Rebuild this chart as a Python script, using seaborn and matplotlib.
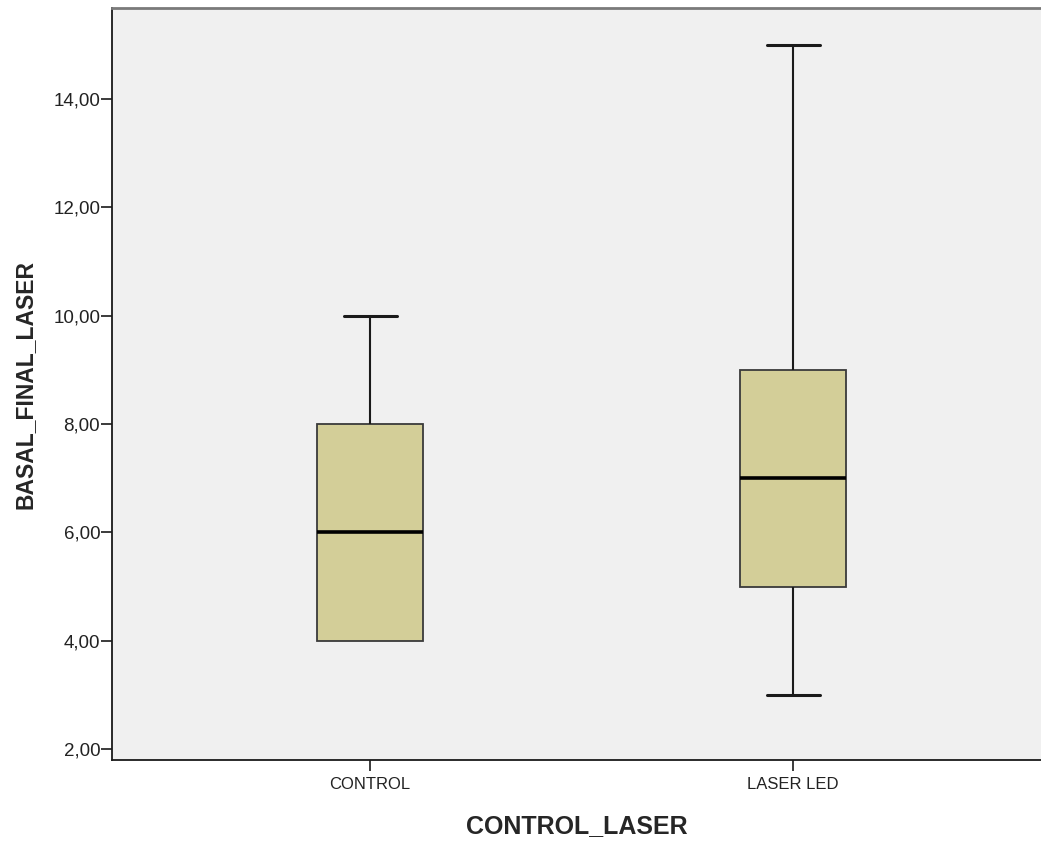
import pandas as pd
import seaborn as sns
import matplotlib
matplotlib.use("Agg")
import matplotlib.pyplot as plt
from matplotlib.ticker import FuncFormatter

# ---------------- Data ----------------
groups = ["CONTROL", "LASER LED"]
# raw scores chosen to give the boxes seen in the picture
control_values = [4, 4, 4, 5, 6, 7, 8, 8, 10]     # min 4, Q1 4, med 6, Q3 8, max 10
laser_values = [3, 5, 5, 6, 7, 8, 9, 9, 15]       # min 3, Q1 5, med 7, Q3 9, max 15
y_ticks = [2, 4, 6, 8, 10, 12, 14]

df = pd.DataFrame({
    "CONTROL_LASER": [groups[0]] * len(control_values) + [groups[1]] * len(laser_values),
    "BASAL_FINAL_LASER": control_values + laser_values,
})

# ---------------- Style ----------------
sns.set_style("white")
plt.rcParams["font.family"] = ["Liberation Sans", "DejaVu Sans"]

fig = plt.figure(figsize=(10.41, 8.41), dpi=100)
ax = fig.add_axes([0.1076, 0.0963, 0.8924, 0.8942])
ax.set_facecolor("#F0F0F0")

sns.boxplot(
    data=df, x="CONTROL_LASER", y="BASAL_FINAL_LASER", order=groups,
    width=0.25, whis=(0, 100), color="#D3CE98", saturation=1,
    boxprops=dict(edgecolor="#3a3a3a", linewidth=1.3),
    whiskerprops=dict(color="#1a1a1a", linewidth=1.5),
    capprops=dict(color="#1a1a1a", linewidth=2.2),
    medianprops=dict(color="black", linewidth=2.6),
    showfliers=False, ax=ax,
)

# SPSS shows no cap when the whisker has zero length (CONTROL min == Q1)
for line in list(ax.lines):
    xs, ys = line.get_xdata(), line.get_ydata()
    if len(ys) == 2 and ys[0] == ys[1] == min(control_values) and max(xs) < 0.1 and (xs[1] - xs[0]) < 0.2:
        line.remove()

ax.set_xlim(-0.61, 1.586)
ax.set_ylim(1.80, 15.68)
ax.set_yticks(y_ticks)
ax.yaxis.set_major_formatter(FuncFormatter(lambda v, p: f"{v:.2f}".replace(".", ",")))

# ---------------- Axes ----------------
for side in ["left", "bottom"]:
    ax.spines[side].set_color("#1a1a1a")
    ax.spines[side].set_linewidth(1.3)
ax.spines["top"].set_color("#7a7a7a")
ax.spines["top"].set_linewidth(2)
ax.spines["right"].set_visible(False)

ax.tick_params(axis="both", direction="out", length=8, width=1.2, color="#1a1a1a",
               left=True, bottom=True)
ax.tick_params(axis="y", labelsize=13.5, labelcolor="#222222", pad=0.5)
ax.tick_params(axis="x", labelsize=12, labelcolor="#222222", pad=4)

ax.set_xlabel("CONTROL_LASER", fontsize=18, fontweight="bold", labelpad=16)
ax.set_ylabel("BASAL_FINAL_LASER", fontsize=16.5, fontweight="bold", labelpad=12)

fig.savefig("out.png", dpi=100)
